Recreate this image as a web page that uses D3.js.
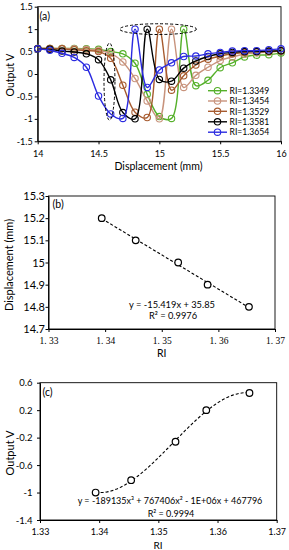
<!DOCTYPE html>
<html><head><meta charset="utf-8">
<script src="https://cdn.jsdelivr.net/npm/d3@7"></script>
<style>
body{margin:0;background:#fff}
svg{display:block}
text{font-family:Lato,"Open Sans",sans-serif;fill:#000}
</style>
</head><body>
<svg id="chart" width="289" height="550"></svg>
<script>
// ---------- DATA ----------
// Panel (a): output voltage vs displacement for five refractive indices
const displacement = [14.0,14.1,14.2,14.3,14.4,14.5,14.6,14.7,14.8,14.9,15.0,15.1,15.2,15.3,15.4,15.5,15.6,15.7,15.8,15.9,16.0];
const riLegend = ["RI=1.3349","RI=1.3454","RI=1.3529","RI=1.3581","RI=1.3654"];
const vRI13349 = [0.57,0.57,0.57,0.57,0.56,0.55,0.50,0.45,0.24,-0.45,-0.95,-0.99,1.00,-0.26,-0.14,0.14,0.25,0.38,0.42,0.43,0.47];
const vRI13454 = [0.57,0.57,0.57,0.56,0.55,0.53,0.46,0.27,-0.10,-0.60,-1.00,1.00,-0.30,-0.03,0.15,0.30,0.38,0.44,0.47,0.49,0.51];
const vRI13529 = [0.57,0.57,0.56,0.54,0.52,0.50,0.35,-0.25,-0.85,-0.97,1.00,-0.36,-0.04,0.20,0.33,0.40,0.45,0.48,0.50,0.50,0.51];
const vRI13581 = [0.56,0.55,0.51,0.49,0.45,0.32,-0.13,-0.86,-1.00,1.00,-0.12,-0.16,0.13,0.29,0.39,0.45,0.48,0.50,0.50,0.51,0.52];
const vRI13654 = [0.56,0.53,0.46,0.37,0.15,-0.49,-0.89,-0.99,1.00,-0.30,0.09,0.25,0.39,0.40,0.45,0.48,0.51,0.52,0.52,0.54,0.56];
const seriesColors = ["#55b02a","#c8937c","#a65a2e","#000000","#2b2be0"];
// annotation ellipses (data units): [cx, cy, rx, ry]
const ellipseV = [14.59, -0.17, 0.045, 0.86];
const ellipseH = [14.99, 1.0, 0.315, 0.12];
const xTicksA = [14,14.5,15,15.5,16];
const yTicksA = [-1.5,-1,-0.5,0,0.5,1,1.5];

// Panel (b): peak displacement vs RI
const riValues = [1.3394,1.3454,1.3529,1.3581,1.3654];
const peakDisplacement = [15.2,15.1,15.0,14.9,14.8];
const fitSlope = -15.419, fitIntercept = 35.85;
const xTicksB = [1.33,1.34,1.35,1.36,1.37];
const xTickLabelsB = ["1. 33","1. 34","1. 35","1. 36","1. 37"];
const yTicksB = [14.7,14.8,14.9,15.0,15.1,15.2,15.3];
const eqB = "y = -15.419x + 35.85", r2B = "R² = 0.9976";

// Panel (c): output voltage vs RI
const outputV = [-1.00,-0.82,-0.26,0.20,0.45];
const xTicksC = [1.33,1.34,1.35,1.36,1.37];
const yTicksC = [-1.4,-1,-0.6,-0.2,0.2,0.6];
const eqC = "y = -189135x³ + 767406x² - 1E+06x + 467796", r2C = "R² = 0.9994";

// ---------- DRAW ----------
const svg = d3.select("#chart");

function frame(x, y){
  svg.append("rect")
    .attr("x", x.range()[0]).attr("y", y.range()[1])
    .attr("width", x.range()[1]-x.range()[0]).attr("height", y.range()[0]-y.range()[1])
    .attr("fill","none").attr("stroke","#000").attr("stroke-width",0.9);
}
function axes(x, y, xt, yt, xfmt, yfmt, xfs, yfs, xfont, xLabY, yLabX){
  const gx = svg.append("g").attr("transform",`translate(0,${y.range()[0]})`)
    .call(d3.axisBottom(x).tickValues(xt).tickFormat(xfmt).tickSize(3).tickSizeOuter(0));
  gx.select(".domain").attr("stroke","#000");
  gx.selectAll("line").attr("stroke","#000");
  gx.selectAll("text").attr("dy",null).attr("y",xLabY).style("font-size",xfs+"px")
    .style("font-family",xfont);
  const gy = svg.append("g").attr("transform",`translate(${x.range()[0]},0)`)
    .call(d3.axisLeft(y).tickValues(yt).tickFormat(yfmt).tickSize(3).tickSizeOuter(0));
  gy.select(".domain").attr("stroke","#000");
  gy.selectAll("line").attr("stroke","#000");
  gy.selectAll("text").attr("x",-yLabX).style("font-size",yfs+"px");
}
function label(txt, x, y, fs, anchor, rot){
  const t = svg.append("text").text(txt).attr("font-size",fs).attr("text-anchor",anchor||"start");
  if(rot) t.attr("transform",`translate(${x},${y}) rotate(-90)`);
  else t.attr("x",x).attr("y",y);
  return t;
}

// ---- Panel (a)
const xa = d3.scaleLinear([14,16],[37.7,281]);
const ya = d3.scaleLinear([-1.5,1.5],[141.3,6.7]);
axes(xa, ya, xTicksA, yTicksA, d=>String(d), d=>String(d), 9, 9, "Lato", 16, 5);
frame(xa, ya);

const seriesA = [vRI13349, vRI13454, vRI13529, vRI13581, vRI13654];
const lineA = d3.line().x((d,i)=>xa(displacement[i])).y(d=>ya(d)).curve(d3.curveCatmullRom.alpha(0.5));
seriesA.forEach((vals,k)=>{
  svg.append("path").datum(vals).attr("d",lineA).attr("fill","none")
    .attr("stroke",seriesColors[k]).attr("stroke-width",1.4);
  svg.append("g").selectAll("circle").data(vals).join("circle")
    .attr("cx",(d,i)=>xa(displacement[i])).attr("cy",d=>ya(d)).attr("r",3.2)
    .attr("fill","none").attr("stroke",seriesColors[k]).attr("stroke-width",1.1);
});
[ellipseV, ellipseH].forEach(e=>{
  svg.append("ellipse")
    .attr("cx",xa(e[0])).attr("cy",ya(e[1]))
    .attr("rx",xa(e[0]+e[2])-xa(e[0])).attr("ry",ya(e[1])-ya(e[1]+e[3]))
    .attr("fill","none").attr("stroke","#000").attr("stroke-width",1).attr("stroke-dasharray","3,2");
});
// legend
const legY = [90.7,101,111.3,121.8,132.2];
riLegend.forEach((name,k)=>{
  svg.append("line").attr("x1",208).attr("x2",227).attr("y1",legY[k]).attr("y2",legY[k])
    .attr("stroke",seriesColors[k]).attr("stroke-width",1.4);
  svg.append("circle").attr("cx",217.5).attr("cy",legY[k]).attr("r",3.2)
    .attr("fill","none").attr("stroke",seriesColors[k]).attr("stroke-width",1.1);
  label(name, 229.5, legY[k]+3.2, 8.6);
});
label("(a)", 39.5, 20, 10.5);
label("Output V", 13.5, 75, 10.5, "middle", true);
label("Displacement (mm)", 158.5, 170, 10.5, "middle");

// ---- Panel (b)
const xb = d3.scaleLinear([1.33,1.37],[48.5,275]);
const yb = d3.scaleLinear([14.7,15.3],[329,196]);
axes(xb, yb, xTicksB, yTicksB, (d,i)=>xTickLabelsB[i], d=>String(+d.toFixed(1)), 9.5, 11, "'Liberation Serif',serif", 15, 3.5);
frame(xb, yb);
svg.append("line")
  .attr("x1",xb(riValues[0])).attr("y1",yb(fitSlope*riValues[0]+fitIntercept))
  .attr("x2",xb(riValues[4])).attr("y2",yb(fitSlope*riValues[4]+fitIntercept))
  .attr("stroke","#000").attr("stroke-width",1.1).attr("stroke-dasharray","3,2");
svg.append("g").selectAll("circle").data(peakDisplacement).join("circle")
  .attr("cx",(d,i)=>xb(riValues[i])).attr("cy",d=>yb(d)).attr("r",3.3)
  .attr("fill","#fff").attr("stroke","#000").attr("stroke-width",1.2);
label(eqB, 172, 308, 9.3, "middle");
label(r2B, 173, 318.5, 9.3, "middle");
label("(b)", 52.5, 208, 10.5);
label("Displacement (mm)", 13, 265, 11, "middle", true);
label("RI", 161.7, 357, 10.5, "middle");

// ---- Panel (c)
const xc = d3.scaleLinear([1.33,1.37],[40,276.7]);
const yc = d3.scaleLinear([-1.4,0.6],[520,382.7]);
axes(xc, yc, xTicksC, yTicksC, d=>d.toFixed(2), d=>String(d), 9, 9.5, "Lato", 14.5, 7.5);
frame(xc, yc);
// cubic least-squares trendline computed from the plotted points
(function(){
  const u = riValues.map(v=>(v-1.35)*100);
  const n = 4, A = Array.from({length:n},()=>Array(n+1).fill(0));
  u.forEach((ui,k)=>{
    for(let r=0;r<n;r++){ for(let c=0;c<n;c++) A[r][c]+=Math.pow(ui,r+c); A[r][n]+=outputV[k]*Math.pow(ui,r); }
  });
  for(let i=0;i<n;i++){
    let p=i; for(let r=i+1;r<n;r++) if(Math.abs(A[r][i])>Math.abs(A[p][i])) p=r;
    [A[i],A[p]]=[A[p],A[i]];
    for(let r=0;r<n;r++) if(r!==i){ const f=A[r][i]/A[i][i]; for(let c=i;c<=n;c++) A[r][c]-=f*A[i][c]; }
  }
  const coef = A.map((row,i)=>row[n]/row[i]);
  const f = x=>{const t=(x-1.35)*100; return coef[0]+coef[1]*t+coef[2]*t*t+coef[3]*t*t*t;};
  const xs = d3.range(0,81).map(i=>riValues[0]+(riValues[4]-riValues[0])*i/80);
  svg.append("path").datum(xs).attr("fill","none").attr("stroke","#000").attr("stroke-width",1.1)
    .attr("stroke-dasharray","3,2")
    .attr("d", d3.line().x(d=>xc(d)).y(d=>yc(f(d))));
})();
svg.append("g").selectAll("circle").data(outputV).join("circle")
  .attr("cx",(d,i)=>xc(riValues[i])).attr("cy",d=>yc(d)).attr("r",3.3)
  .attr("fill","#fff").attr("stroke","#000").attr("stroke-width",1.2);
label(eqC, 170, 504, 9, "middle");
label(r2C, 171, 517, 9, "middle");
label("(c)", 42.5, 396, 10.5);
label("Output V", 14, 453, 11, "middle", true);
label("RI", 158, 548.5, 10, "middle");
</script>
</body></html>
